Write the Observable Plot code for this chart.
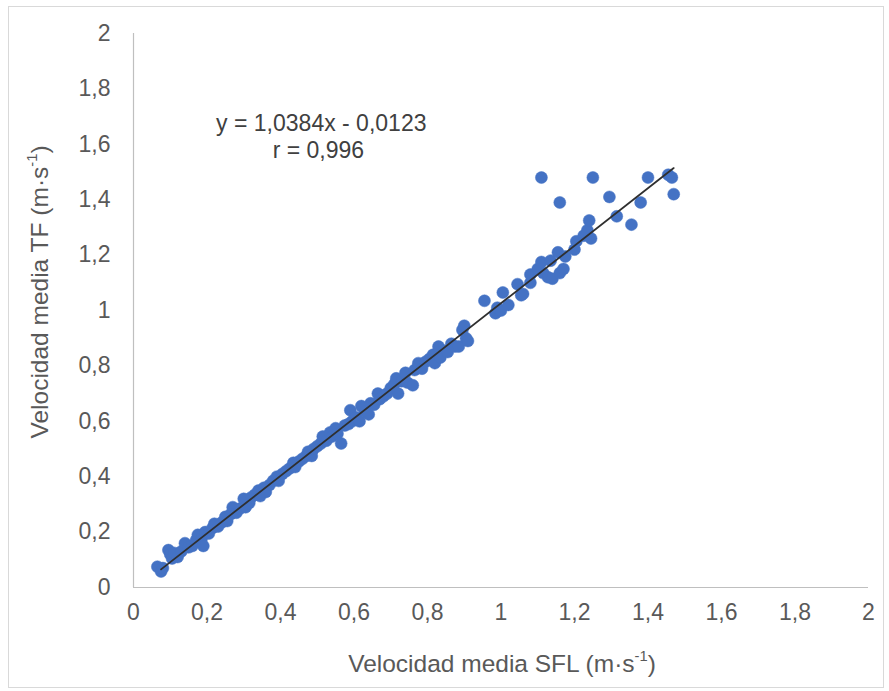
<!DOCTYPE html>
<html>
<head>
<meta charset="utf-8">
<script src="https://cdn.jsdelivr.net/npm/d3@7"></script>
<script src="https://cdn.jsdelivr.net/npm/@observablehq/plot@0.6"></script>
<style>
  html, body { margin: 0; padding: 0; background: #fff; }
  #wrap { position: relative; width: 889px; height: 691px; overflow: hidden; font-family: "Liberation Sans", Arial, sans-serif; }
  #frame { position: absolute; left: 8px; top: 6px; width: 874px; height: 680px; border: 1px solid #d9d9d9; pointer-events: none; }
  .title { position: absolute; color: #595959; font-size: 24.5px; white-space: nowrap; line-height: 1; }
  .title sup { font-size: 0.6em; vertical-align: 0.7em; line-height: 0; }
  #xtitle { left: 502px; top: 664px; transform: translate(-50%, -50%); }
  #ytitle { left: 40px; top: 292px; transform: translate(-50%, -50%) rotate(-90deg); }
</style>
</head>
<body>
<div id="wrap">
  <div id="chart"></div>
  <div id="frame"></div>
  <div class="title" id="xtitle">Velocidad media SFL (m·s<sup>-1</sup>)</div>
  <div class="title" id="ytitle">Velocidad media TF (m·s<sup>-1</sup>)</div>
</div>
<script>
// Velocidad media SFL (x) and TF (y), m·s-1
const sflVelocity = [
  0.065, 0.075, 0.08, 0.095, 0.1, 0.105, 0.11, 0.12, 0.13, 0.14,
  0.15, 0.16, 0.17, 0.175, 0.185, 0.19, 0.195, 0.205, 0.215, 0.22,
  0.23, 0.24, 0.25, 0.255, 0.265, 0.27, 0.28, 0.29, 0.3, 0.305,
  0.315, 0.32, 0.33, 0.34, 0.345, 0.355, 0.36, 0.37, 0.38, 0.39,
  0.395, 0.405, 0.415, 0.425, 0.435, 0.44, 0.45, 0.46, 0.47, 0.475,
  0.485, 0.49, 0.5, 0.51, 0.515, 0.525, 0.535, 0.54, 0.55, 0.555,
  0.565, 0.575, 0.585, 0.59, 0.595, 0.605, 0.615, 0.62, 0.63, 0.64,
  0.645, 0.655, 0.665, 0.67, 0.68, 0.69, 0.7, 0.71, 0.715, 0.72,
  0.73, 0.74, 0.745, 0.76, 0.765, 0.775, 0.785, 0.795, 0.805, 0.815,
  0.82, 0.83, 0.835, 0.845, 0.855, 0.865, 0.875, 0.885, 0.895, 0.9,
  0.905, 0.91, 0.955, 0.985, 0.99, 1.0, 1.005, 1.02, 1.045, 1.055,
  1.06, 1.08, 1.08, 1.1, 1.11, 1.115, 1.128, 1.135, 1.14, 1.155,
  1.16, 1.17, 1.175, 1.2, 1.205, 1.225, 1.235, 1.245, 1.24, 1.11,
  1.25, 1.16, 1.295, 1.315, 1.355, 1.38, 1.4, 1.455, 1.465, 1.47
];
const tfVelocity = [
  0.075, 0.058, 0.07, 0.135, 0.12, 0.105, 0.125, 0.11, 0.13, 0.16,
  0.145, 0.15, 0.17, 0.19, 0.175, 0.15, 0.2, 0.195, 0.215, 0.23,
  0.22, 0.235, 0.255, 0.24, 0.265, 0.29, 0.27, 0.285, 0.32, 0.29,
  0.305, 0.325, 0.335, 0.35, 0.33, 0.36, 0.345, 0.37, 0.385, 0.4,
  0.385, 0.41, 0.42, 0.43, 0.45, 0.435, 0.455, 0.465, 0.475, 0.49,
  0.475, 0.5, 0.51, 0.52, 0.545, 0.53, 0.56, 0.545, 0.575, 0.555,
  0.52, 0.585, 0.59, 0.64, 0.6, 0.615, 0.6, 0.655, 0.635, 0.625,
  0.665, 0.66, 0.7, 0.68, 0.69, 0.7, 0.72, 0.735, 0.755, 0.7,
  0.745, 0.775, 0.74, 0.73, 0.785, 0.81, 0.79, 0.815, 0.825, 0.84,
  0.81, 0.87, 0.83, 0.855, 0.85, 0.88, 0.87, 0.87, 0.93, 0.945,
  0.9, 0.89, 1.035, 0.99, 1.01, 1.0, 1.065, 1.02, 1.095, 1.055,
  1.06, 1.13, 1.1, 1.15, 1.175, 1.135, 1.12, 1.18, 1.115, 1.21,
  1.135, 1.15, 1.195, 1.22, 1.25, 1.27, 1.29, 1.26, 1.325, 1.48,
  1.48, 1.39, 1.41, 1.34, 1.31, 1.39, 1.48, 1.49, 1.48, 1.42
];

// Linear trend shown on the chart
const trendSlope = 1.0384;
const trendIntercept = -0.0123;
const trendExtent = [0.075, 1.47];

// Axis ticks
const axisTicks = [0, 0.2, 0.4, 0.6, 0.8, 1, 1.2, 1.4, 1.6, 1.8, 2];
const tickLabel = d => String(+d.toFixed(1)).replace(".", ",");

// Annotation
const annotationText = ["y = 1,0384x - 0,0123", "r = 0,996"];
const annotationX = [0.511, 0.503];
const annotationY = [1.675, 1.578];

const points = sflVelocity.map((x, i) => ({x, y: tfVelocity[i]}));
const trend = trendExtent.map(x => ({x, y: trendSlope * x + trendIntercept}));
const notes = annotationText.map((text, i) => ({text, x: annotationX[i], y: annotationY[i]}));

const chart = Plot.plot({
  width: 889,
  height: 691,
  marginLeft: 133,
  marginRight: 21,
  marginTop: 33,
  marginBottom: 104,
  style: {fontFamily: "'Liberation Sans', Arial, sans-serif", fontSize: "23px", color: "#595959", background: "transparent"},
  x: {domain: [0, 2], ticks: axisTicks, tickFormat: tickLabel, tickSize: 0, tickPadding: 16, label: null},
  y: {domain: [0, 2], ticks: axisTicks, tickFormat: tickLabel, tickSize: 0, tickPadding: 23, label: null},
  marks: [
    Plot.ruleX([0], {stroke: "#bfbfbf", strokeWidth: 1.2}),
    Plot.ruleY([0], {stroke: "#bfbfbf", strokeWidth: 1.2}),
    Plot.dot(points, {x: "x", y: "y", r: 6, fill: "#4472c4", stroke: "#4472c4", strokeWidth: 0.5}),
    Plot.line(trend, {x: "x", y: "y", stroke: "#2f2f2f", strokeWidth: 1.8}),
    Plot.text(notes, {x: "x", y: "y", text: "text", fill: "#404040", fontSize: 23})
  ]
});
document.getElementById("chart").appendChild(chart);
</script>
</body>
</html>
